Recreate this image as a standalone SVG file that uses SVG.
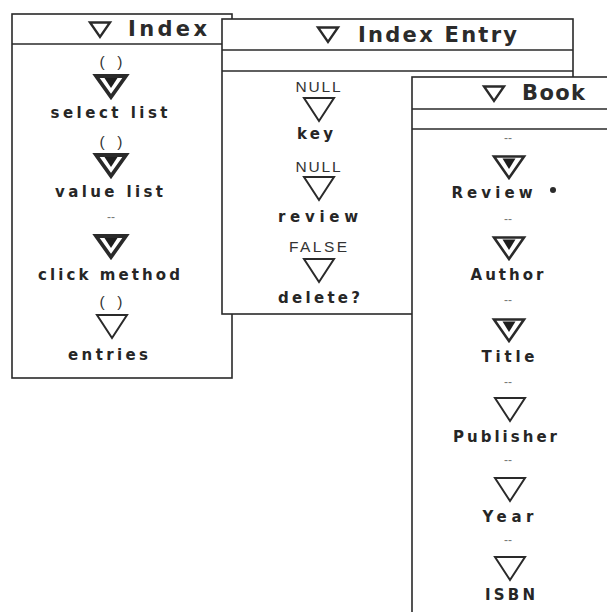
<svg xmlns="http://www.w3.org/2000/svg" width="607" height="612" viewBox="0 0 607 612">
  <style>
    .win { fill: #ffffff; stroke: #2a2a2a; stroke-width: 1.6; }
    .rule { stroke: #2a2a2a; stroke-width: 1.6; fill: none; }
    .title { font-family: "DejaVu Sans", "Liberation Sans", sans-serif; font-weight: bold; font-size: 21px; fill: #2b2b2b; }
    .label { font-family: "DejaVu Sans", "Liberation Sans", sans-serif; font-weight: bold; font-size: 15px; fill: #262626; text-anchor: middle; }
    .value { font-family: "Liberation Sans", "DejaVu Sans", sans-serif; font-size: 15.5px; fill: #333333; text-anchor: middle; }
    .dash { font-family: "Liberation Sans", "DejaVu Sans", sans-serif; font-size: 12px; fill: #777777; text-anchor: middle; }
    .tri { fill: none; stroke: #2a2a2a; stroke-width: 2; stroke-linejoin: miter; }
    .tri-bold { fill: none; stroke: #2a2a2a; stroke-width: 3.8; stroke-linejoin: miter; }
    .tri-mid { fill: none; stroke: #2a2a2a; stroke-width: 2.6; stroke-linejoin: miter; }
    .core { fill: #1e1e1e; }
  </style>
  <defs>
    <!-- slot triangles, origin at top-centre -->
    <g id="tri-open">
      <polygon class="tri" points="-15,1 15,1 0,24"/>
    </g>
    <g id="tri-full">
      <polygon class="tri-bold" points="-15,2 15,2 0,23"/>
      <polygon class="core" points="-6.5,4 6.5,4 0,14"/>
    </g>
    <g id="tri-full-thin">
      <polygon class="tri-mid" points="-15,1.5 15,1.5 0,23"/>
      <polygon class="core" points="-6.5,3.5 6.5,3.5 0,14"/>
    </g>
    <g id="tri-title">
      <polygon fill="none" stroke="#2a2a2a" stroke-width="2.4" points="-10,1.5 10,1.5 0,16"/>
    </g>
  </defs>

  <!-- Index window (back) -->
  <g id="index">
    <rect class="win" x="12" y="14" width="220" height="364"/>
    <line class="rule" x1="12" y1="44" x2="232" y2="44"/>
    <use href="#tri-title" x="100" y="21"/>
    <text class="title" x="128" y="36" textLength="79" lengthAdjust="spacing">Index</text>

    <text class="value" x="111" y="67" textLength="23" lengthAdjust="spacing">( )</text>
    <use href="#tri-full" x="111" y="74"/>
    <text class="label" x="109" y="118" textLength="117" lengthAdjust="spacing">select list</text>

    <text class="value" x="111" y="147" textLength="23" lengthAdjust="spacing">( )</text>
    <use href="#tri-full" x="111" y="153"/>
    <text class="label" x="109" y="197" textLength="108" lengthAdjust="spacing">value list</text>

    <text class="dash" x="111" y="221">--</text>
    <use href="#tri-full" x="111" y="234"/>
    <text class="label" x="109" y="280" textLength="142" lengthAdjust="spacing">click method</text>

    <text class="value" x="111" y="307" textLength="23" lengthAdjust="spacing">( )</text>
    <use href="#tri-open" x="112" y="314"/>
    <text class="label" x="108" y="360" textLength="80" lengthAdjust="spacing">entries</text>
  </g>

  <!-- Index Entry window (middle) -->
  <g id="index-entry">
    <rect class="win" x="222" y="19" width="351" height="295"/>
    <line class="rule" x1="222" y1="50" x2="573" y2="50"/>
    <line class="rule" x1="222" y1="71" x2="573" y2="71"/>
    <use href="#tri-title" x="328" y="26"/>
    <text class="title" x="358" y="42" textLength="159" lengthAdjust="spacing">Index Entry</text>

    <text class="value" x="318" y="92" textLength="45" lengthAdjust="spacing">NULL</text>
    <use href="#tri-open" x="319" y="97"/>
    <text class="label" x="315" y="139" textLength="36" lengthAdjust="spacing">key</text>

    <text class="value" x="318" y="172" textLength="45" lengthAdjust="spacing">NULL</text>
    <use href="#tri-open" x="319" y="176"/>
    <text class="label" x="318" y="222" textLength="80" lengthAdjust="spacing">review</text>

    <text class="value" x="318" y="252" textLength="58" lengthAdjust="spacing">FALSE</text>
    <use href="#tri-open" x="319" y="258"/>
    <text class="label" x="319" y="303" textLength="82" lengthAdjust="spacing">delete?</text>
  </g>

  <!-- Book window (front, runs off the page) -->
  <g id="book">
    <rect class="win" x="412" y="77" width="220" height="560"/>
    <line class="rule" x1="412" y1="109" x2="632" y2="109"/>
    <line class="rule" x1="412" y1="129" x2="632" y2="129"/>
    <use href="#tri-title" x="494" y="85"/>
    <text class="title" x="522" y="100" textLength="63" lengthAdjust="spacing">Book</text>

    <text class="dash" x="508" y="142">--</text>
    <use href="#tri-full-thin" x="509" y="155"/>
    <text class="label" x="492" y="198" textLength="81" lengthAdjust="spacing">Review</text>
    <circle cx="553" cy="190" r="3" fill="#2b2b2b"/>

    <text class="dash" x="508" y="223">--</text>
    <use href="#tri-full-thin" x="509" y="236"/>
    <text class="label" x="507" y="280" textLength="73" lengthAdjust="spacing">Author</text>

    <text class="dash" x="508" y="304">--</text>
    <use href="#tri-full-thin" x="509" y="318"/>
    <text class="label" x="508" y="362" textLength="53" lengthAdjust="spacing">Title</text>

    <text class="dash" x="508" y="386">--</text>
    <use href="#tri-open" x="510" y="397"/>
    <text class="label" x="505" y="442" textLength="104" lengthAdjust="spacing">Publisher</text>

    <text class="dash" x="508" y="464">--</text>
    <use href="#tri-open" x="510" y="477"/>
    <text class="label" x="508" y="522" textLength="51" lengthAdjust="spacing">Year</text>

    <text class="dash" x="508" y="544">--</text>
    <use href="#tri-open" x="510" y="556"/>
    <text class="label" x="510" y="600" textLength="50" lengthAdjust="spacing">ISBN</text>
  </g>
</svg>
